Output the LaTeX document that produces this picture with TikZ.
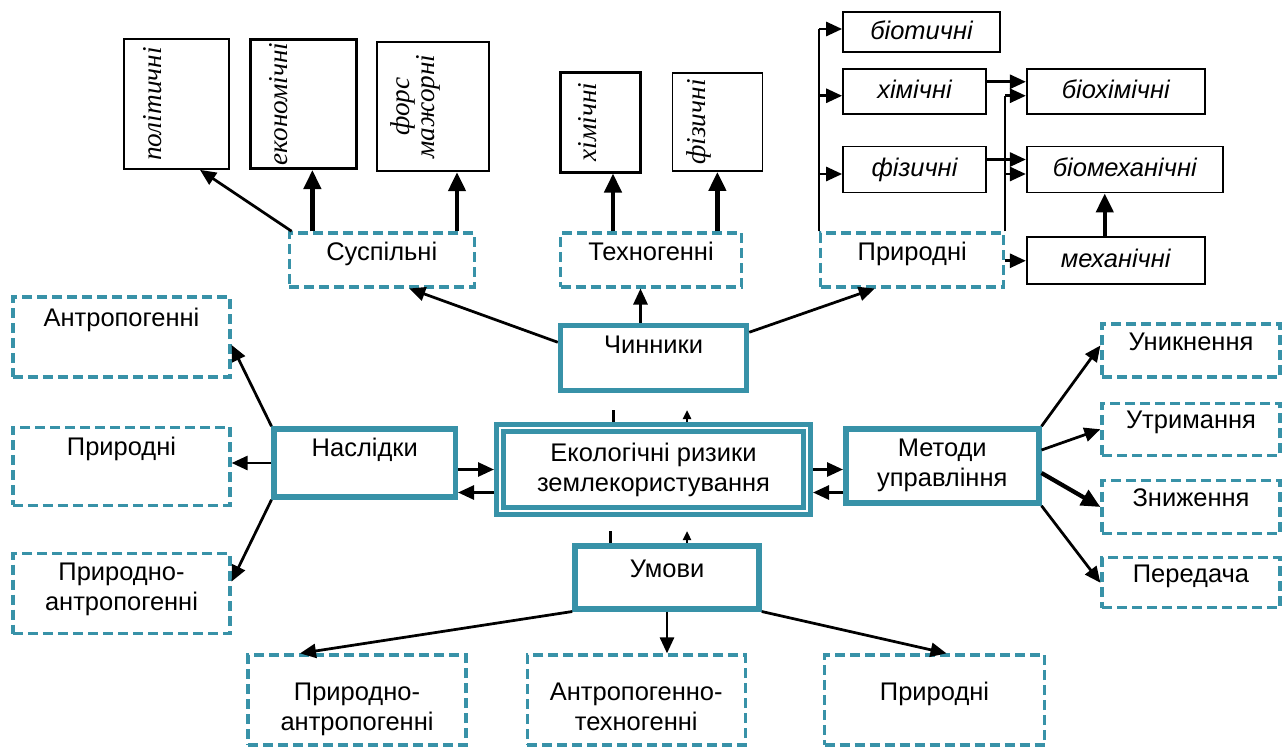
\documentclass[tikz,border=0pt]{standalone}
\usepackage{fontspec}
\setmainfont{Liberation Sans}
\newfontfamily\serifit{Liberation Serif}
\usepackage{tikz}
\usetikzlibrary{arrows.meta, positioning}
\definecolor{riskteal}{RGB}{56,146,168}
\tikzstyle{mainbox} = [rectangle, draw=riskteal, line width=1.1mm, fill=white, inner sep=0pt, text height=4mm, align=center]
\tikzstyle{dashbox} = [rectangle, draw=riskteal, line width=0.65mm, dash pattern=on 2mm off 1mm, inner sep=0pt, text height=4mm, align=center]
\tikzstyle{itembox} = [rectangle, draw=black, line width=0.35mm, inner sep=0pt, text height=4mm, text depth=1.2mm, font=\fontsize{14.5}{17}\selectfont\itshape]
\tikzstyle{turnbox} = [rectangle, draw=black, line width=0.35mm, inner sep=0pt, font=\serifit\itshape\fontsize{15.5}{14}\selectfont]
\tikzstyle{arrow} = [line width=0.55mm, -{Triangle[length=3.2mm,width=2.8mm]}]
\tikzstyle{boldarrow} = [line width=0.85mm, -{Triangle[length=3.8mm,width=3.4mm]}]
\tikzstyle{tiparrow} = [line width=0.5mm, -{Triangle[length=1.8mm,width=1.6mm]}]
\tikzstyle{stubline} = [line width=0.6mm]
\tikzstyle{branchline} = [line width=0.4mm]

\begin{document}
\begin{tikzpicture}[x=0.2mm, y=-0.2mm, every node/.style={font=\fontsize{14.5}{17}\selectfont}]
\useasboundingbox (0,0) rectangle (1282,747);
\fill[white] (0,0) rectangle (1282,747);

% Centre
\node (main) [mainbox, double=white, line width=1mm, double distance=0.4mm, outer sep=1.2mm, minimum width=61.4mm, minimum height=16.6mm, text height=10mm, text depth=1.4mm] at (653.5,469.5) {Екологічні ризики\\землекористування};
\node (chyn) [mainbox, minimum width=37.2mm, minimum height=13mm, text depth=5.8mm, above=5.8mm of main] {Чинники};
\node (umovy) [mainbox, minimum width=36.8mm, minimum height=12.6mm, text depth=4mm, below=5.2mm of main, xshift=2.7mm] {Умови};
\node (nasl) [mainbox, minimum width=36.2mm, minimum height=13.6mm, text depth=6.8mm, left=7.2mm of main, yshift=1.3mm] {Наслідки};
\node (metody) [mainbox, minimum width=38.6mm, minimum height=14.8mm, text height=10mm, text depth=2mm, right=6mm of main, yshift=0.7mm] {Методи\\управління};

% Factors
\node (tech) [dashbox, minimum width=36.2mm, minimum height=10.8mm, text depth=3.6mm, above=6.8mm of chyn, xshift=-0.5mm] {Техногенні};
\node (sus) [dashbox, minimum width=37mm, minimum height=10.8mm, text depth=3.6mm, left=16.6mm of tech] {Суспільні};
\node (nat) [dashbox, minimum width=36.6mm, minimum height=10.8mm, text depth=3.6mm, right=15.2mm of tech] {Природні};

\node (pol) [turnbox, minimum width=21mm, minimum height=26mm] at (176.5,104) {\rotatebox{90}{політичні}\kern9.4mm};
\node (econ) [turnbox, line width=0.6mm, minimum width=21.2mm, minimum height=25.8mm, right=3.8mm of pol] {\rotatebox{90}{економічні}\kern10mm};
\node (force) [turnbox, line width=0.45mm, minimum width=22.4mm, minimum height=25.8mm, right=3.6mm of econ, yshift=-0.5mm] {\rotatebox{90}{\begin{tabular}{@{}c@{}}форс\\мажорні\end{tabular}}\kern6.8mm};
\node (chem1) [turnbox, line width=0.6mm, minimum width=16mm, minimum height=20mm] at (600,122) {\rotatebox{90}{хімічні}\kern4.8mm};
\node (phys1) [turnbox, minimum width=18mm, minimum height=19.6mm, right=6mm of chem1] {\rotatebox{90}{фізичні}\kern7.2mm};

\node (biot) [itembox, minimum width=31.4mm, minimum height=8mm] at (921.5,32) {біотичні};
\node (chem2) [itembox, minimum width=28.6mm, minimum height=9mm, below right=3mm and 0mm of biot.south west] {хімічні};
\node (phys2) [itembox, minimum width=28.6mm, minimum height=9.2mm, below right=6.2mm and 0mm of chem2.south west] {фізичні};
\node (biochem) [itembox, minimum width=35.6mm, minimum height=9mm, right=7.8mm of chem2] {біохімічні};
\node (biomech) [itembox, minimum width=39.2mm, minimum height=9.2mm, right=7.8mm of phys2] {біомеханічні};
\node (mech) [itembox, minimum width=35.6mm, minimum height=9.4mm, below right=8.6mm and 0mm of biomech.south west] {механічні};

% Consequences
\node (cantr) [dashbox, minimum width=43.4mm, minimum height=16mm, text depth=8.4mm] at (121.5,337) {Антропогенні};
\node (cnat) [dashbox, minimum width=43.4mm, minimum height=15.6mm, text depth=8.4mm, below=9.4mm of cantr] {Природні};
\node (cmix) [dashbox, minimum width=43.4mm, minimum height=16mm, text height=10mm, text depth=3.2mm, below=9mm of cnat] {Природно-\\антропогенні};

% Methods
\node (avoid) [dashbox, minimum width=35.6mm, minimum height=10.6mm, text depth=4.2mm] at (1191,350.5) {Уникнення};
\node (keep) [dashbox, minimum width=35.6mm, minimum height=10.4mm, text depth=4.2mm, below=4.6mm of avoid] {Утримання};
\node (reduce) [dashbox, minimum width=35.6mm, minimum height=10.6mm, text depth=4.2mm, below=4.4mm of keep] {Зниження};
\node (transfer) [dashbox, minimum width=35.6mm, minimum height=10mm, text depth=4.2mm, below=4.2mm of reduce] {Передача};

% Conditions
\node (umix) [dashbox, minimum width=43.6mm, minimum height=18mm, text height=13mm, text depth=1mm] at (357,700) {Природно-\\антропогенні};
\node (uat) [dashbox, minimum width=43.6mm, minimum height=18mm, text height=13mm, text depth=1mm, right=11.6mm of umix] {Антропогенно-\\техногенні};
\node (unat) [dashbox, minimum width=44mm, minimum height=18mm, text depth=4mm, right=15.2mm of uat] {Природні};

% Links
\draw[arrow] ([yshift=3.1mm]chyn.west) -- ([xshift=5.5mm]sus.south);
\draw[arrow] ([xshift=-2.6mm]chyn.north) -- ([xshift=-2.6mm]chyn.north |- tech.south);
\draw[arrow] ([yshift=5.1mm]chyn.east) -- ([xshift=-7.5mm]nat.south);

\draw[arrow] ([xshift=0.8mm]sus.north west) -- ([xshift=4.7mm]pol.south);
\draw[boldarrow] ([xshift=1.8mm]econ.south |- sus.north) -- ([xshift=1.8mm]econ.south);
\draw[boldarrow] ([xshift=4.8mm]force.south |- sus.north) -- ([xshift=4.8mm]force.south);
\draw[boldarrow] ([xshift=2.6mm]chem1.south |- tech.north) -- ([xshift=2.6mm]chem1.south);
\draw[boldarrow] (phys1.south |- tech.north) -- (phys1.south);

\draw[branchline] (nat.north west) -- ([yshift=0.6mm]nat.north west |- biot.west);
\draw[arrow] ([yshift=0.6mm]nat.north west |- biot.west) -- ([yshift=0.6mm]biot.west);
\draw[arrow] ([yshift=-0.9mm]nat.north west |- chem2.west) -- ([yshift=-0.9mm]chem2.west);
\draw[arrow] ([yshift=-0.9mm]nat.north west |- phys2.west) -- ([yshift=-0.9mm]phys2.west);
\draw[branchline] (nat.north east) -- ([yshift=-0.9mm]nat.north east |- biochem.west);
\draw[arrow] ([yshift=-0.9mm]nat.north east |- biochem.west) -- ([yshift=-0.9mm]biochem.west);
\draw[arrow] ([yshift=-0.9mm]nat.north east |- biomech.west) -- ([yshift=-0.9mm]biomech.west);
\draw[arrow] ([yshift=1.9mm]chem2.east) -- ([yshift=1.9mm]chem2.east -| biochem.west);
\draw[arrow] ([yshift=2mm]phys2.east) -- ([yshift=2mm]phys2.east -| biomech.west);
\draw[arrow] (mech.west -| nat.east) -- (mech.west);
\draw[boldarrow] ([xshift=-2.2mm]mech.north) -- ([xshift=-2.2mm]mech.north |- biomech.south);

\draw[stubline] ([xshift=-8.1mm]main.north) -- ++(0,-12);
\draw[tiparrow] ([xshift=6.7mm]main.north) -- ++(0,-12);
\draw[stubline] ([xshift=-11.4mm]umovy.north) -- ++(0,-12);
\draw[tiparrow] ([xshift=4mm]umovy.north) -- ++(0,-12);

\draw[arrow] (nasl.east |- main.west) -- (main.west);
\draw[arrow] ([yshift=-4.6mm]main.west) -- ([yshift=-4.6mm]nasl.east |- main.west);
\draw[arrow] (nasl.north west) -- ([yshift=-1.6mm]cantr.east);
\draw[arrow] (nasl.west) -- (nasl.west -| cnat.east);
\draw[arrow] (nasl.south west) -- ([yshift=2.4mm]cmix.east);

\draw[arrow] (main.east) -- (metody.west |- main.east);
\draw[arrow] ([yshift=-4.6mm]metody.west |- main.east) -- ([yshift=-4.6mm]main.east);
\draw[arrow] (metody.north east) -- ([yshift=1mm]avoid.west);
\draw[arrow] ([yshift=3.2mm]metody.east) -- (keep.west);
\draw[boldarrow] ([yshift=-1.4mm]metody.east) -- (reduce.west);
\draw[arrow] (metody.south east) -- (transfer.west);

\draw[arrow] (umovy.south west) -- ([xshift=-11.4mm]umix.north);
\draw[arrow] (umovy.south) -- (umovy.south |- uat.north);
\draw[arrow] (umovy.south east) -- ([xshift=2.4mm]unat.north);

\end{tikzpicture}
\end{document}
